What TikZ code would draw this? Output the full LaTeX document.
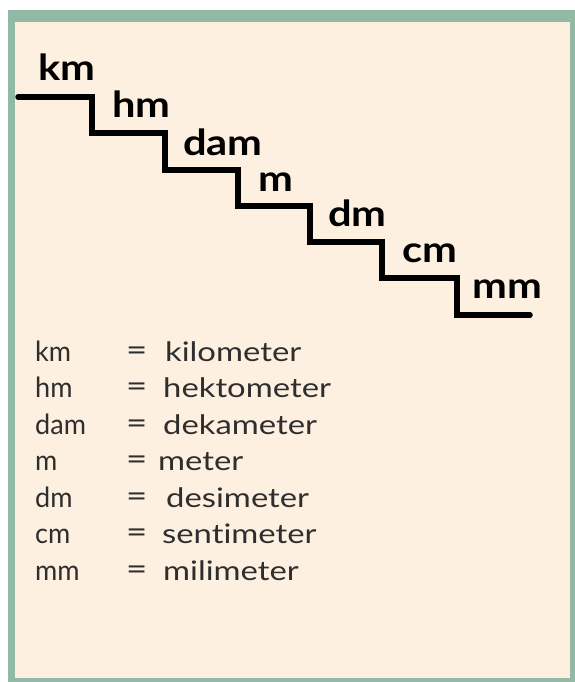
\documentclass[tikz,border=0pt]{standalone}
\usepackage{fontspec}
\setmainfont{Lato}[Ligatures=NoCommon]
\newfontfamily\unitfont{Lato}[Ligatures=NoCommon, FakeStretch=1.16]
\newfontfamily\wordfont{Lato}[Ligatures=NoCommon, FakeStretch=1.22]
\newfontfamily\abbrfont{Lato}[Ligatures=NoCommon, FakeStretch=0.97]
\definecolor{frame}{HTML}{92B8A6}
\definecolor{paper}{HTML}{FDF0E1}
\definecolor{ink}{HTML}{2E2E2E}
\tikzset{
  unit/.style={anchor=base west, inner sep=0pt, font=\unitfont\fontsize{36}{40}\selectfont\bfseries, text=black},
  abbr/.style={anchor=base west, inner sep=0pt, font=\abbrfont\fontsize{28}{32}\selectfont, text=ink},
  eqsign/.style={anchor=base west, inner sep=0pt, font=\wordfont\fontsize{30}{32}\selectfont, text=ink},
  word/.style={anchor=base west, inner sep=0pt, font=\wordfont\fontsize{27}{32}\selectfont, text=ink},
  stair/.style={line width=5.5bp, line cap=round, line join=miter, black}
}
\begin{document}
\begin{tikzpicture}[x=1bp,y=-1bp]
\useasboundingbox (0,0) rectangle (575,682);
% frame and paper
\fill[white] (0,0) rectangle (575,682);
\fill[frame] (8,10) rectangle (575,682);
\fill[paper] (15,22) rectangle (570,678);
% corner points of the staircase
\coordinate (s0) at (18,97);
\coordinate (s1) at (92,97);
\coordinate (s2) at (165,133);
\coordinate (s3) at (238,170);
\coordinate (s4) at (310,206);
\coordinate (s5) at (382,242);
\coordinate (s6) at (457,278);
\coordinate (s7) at (457,315);
\coordinate (s8) at (530,315);
\draw[stair] (s0) -- (s1) |- (s2) |- (s3) |- (s4) |- (s5) |- (s6) -- (s7) -- (s8);
% unit names on the steps
\node[unit] (ukm)  at (38,81)   {km};
\node[unit] (uhm)  at (112,118) {hm};
\node[unit] (udam) at (183,155) {dam};
\node[unit] (um)   at (258,191) {m};
\node[unit] (udm)  at (328,226) {dm};
\node[unit] (ucm)  at (402,262) {cm};
\node[unit] (umm)  at (472,298) {mm};
% legend
\foreach \i/\a/\w/\dx in {0/km/kilometer/165, 1/hm/hektometer/163, 2/dam/dekameter/163, 3/m/meter/158, 4/dm/desimeter/166, 5/cm/sentimeter/162, 6/mm/milimeter/163}{
  \node[abbr] (a\i) at (35,{361+36.5*\i}) {\a};
  \node[eqsign] (e\i) at (126,{360+36.5*\i}) {=};
  \node[word] (w\i) at (\dx,{361+36.5*\i}) {\w};
}
\end{tikzpicture}
\end{document}
